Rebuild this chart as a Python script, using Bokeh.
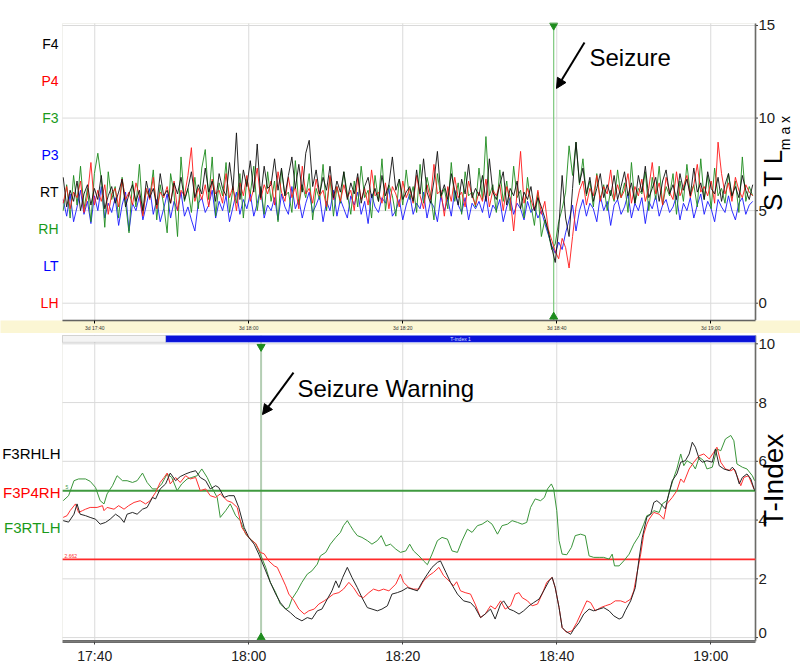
import math
from bokeh.plotting import figure
from bokeh.layouts import column
from bokeh.models import (Range1d, FixedTicker, Label, Arrow, NormalHead, BoxAnnotation)
from bokeh.embed import file_html
from bokeh.resources import INLINE

SANS = "Liberation Sans"

# ---------------- data ----------------
# time axis in minutes after 17:00
x_ticks = [40, 60, 80, 100, 120]
x_tick_labels = ["17:40", "18:00", "18:20", "18:40", "19:00"]
x_tick_labels_top = ["3d 17:40", "3d 18:00", "3d 18:20", "3d 18:40", "3d 19:00"]
stl_ticks = [0, 5, 10, 15]
stl_tick_labels = ["0", "5", "10", "15"]
tindex_ticks = [0, 2, 4, 6, 8, 10]
tindex_tick_labels = ["0", "2", "4", "6", "8", "10"]

seizure_t = 99.6          # 18:39.6
warning_t = 61.6          # 18:01.6
threshold_hi = 5.0
threshold_lo = 2.662

stl_channels = ["F4", "P4", "F3", "P3", "RT", "RH", "LT", "LH"]
stl_channel_colors = ["#000000", "#ff0000", "#1a9a1a", "#0000ff",
                      "#000000", "#1a9a1a", "#0000ff", "#ff0000"]
stl_channel_y = [14, 12, 10, 8, 6, 4, 2, 0]

tindex_names = ["F3RHLH", "F3P4RH", "F3RTLH"]
tindex_name_colors = ["#000000", "#ff0000", "#1a9a1a"]
tindex_name_y = [6.25, 4.95, 3.75]

scroll_start = 49.2

# STLmax profiles, sampled every 0.45 min starting at 17:35.9
stl_t0, stl_dt = 35.9, 0.45
stl_black = [
    6.8, 5.2, 6.1, 5.5, 6.6, 5.0, 5.9, 6.4, 5.3, 6.2, 5.6, 6.9, 5.1, 5.8, 6.3, 5.4, 6.0, 6.7, 5.2, 5.9,
    6.4, 5.5, 6.1, 5.0, 6.6, 5.7, 6.2, 5.3, 7.0, 5.8, 6.1, 5.4, 6.5, 5.9, 6.8, 5.6, 6.2, 7.1, 5.7, 6.4,
    5.9, 7.3, 6.0, 6.6, 5.5, 7.0, 6.2, 5.8, 7.6, 6.1, 9.2, 5.6, 7.2, 6.3, 7.7, 6.0, 8.6, 5.7, 7.4, 6.2,
    6.4, 7.8, 6.1, 7.3, 5.8, 6.9, 7.9, 6.2, 7.5, 6.0, 8.1, 8.8, 6.3, 7.2, 5.9, 6.8, 6.1, 7.4, 5.7, 6.6,
    6.0, 7.1, 5.6, 6.5, 5.9, 7.0, 5.4, 6.3, 6.8, 5.7, 6.2, 5.5, 6.9, 5.8, 6.4, 7.9, 6.1, 6.7, 5.6, 6.0,
    6.3, 5.5, 7.2, 5.9, 7.8, 6.0, 5.4, 6.6, 8.2, 5.8, 6.4, 5.6, 7.0, 6.1, 5.3, 6.7, 5.9, 7.5, 5.7, 6.2,
    5.8, 6.9, 5.5, 7.8, 6.0, 5.6, 6.4, 7.1, 5.3, 6.2, 5.8, 6.6, 5.1, 6.0, 5.6, 6.3, 5.0, 5.7, 5.2, 4.6,
    3.9, 3.0, 2.2, 4.0, 6.9, 4.6, 3.6, 6.2, 8.7, 6.5, 7.3, 5.9, 6.8, 5.5, 6.2, 7.0, 5.7, 6.4, 5.8, 6.9,
    5.6, 6.3, 7.1, 5.8, 6.5, 5.4, 6.9, 6.0, 7.4, 5.7, 6.2, 6.8, 5.5, 6.6, 7.2, 5.9, 6.4, 5.6, 7.0, 6.1,
    6.7, 5.8, 7.3, 6.0, 6.5, 5.6, 7.1, 6.2, 5.9, 6.8, 5.5, 6.4, 7.0, 5.8, 6.3, 5.7, 6.9, 6.1, 5.6, 6.4,
]
stl_red = [
    5.4, 6.3, 5.1, 6.0, 5.7, 6.6, 4.9, 5.8, 7.6, 5.3, 6.1, 5.5, 6.4, 4.8, 5.9, 6.2, 5.2, 6.7, 5.6, 6.0,
    5.3, 6.5, 5.8, 4.7, 6.2, 5.6, 6.8, 5.1, 6.0, 5.7, 6.3, 5.4, 6.6, 5.0, 6.1, 5.8, 6.9, 8.4, 5.5, 6.2,
    5.6, 6.4, 5.2, 6.7, 5.9, 6.1, 5.4, 7.0, 5.7, 6.3, 5.0, 6.5, 5.8, 6.9, 5.5, 6.2, 7.3, 5.6, 6.4, 5.9,
    6.6, 5.3, 7.1, 6.0, 5.5, 6.8, 5.7, 6.3, 5.1, 7.4, 5.9, 6.2, 5.4, 6.7, 5.8, 6.1, 5.2, 6.9, 5.6, 6.3,
    5.5, 6.4, 5.7, 6.1, 5.0, 6.8, 5.6, 6.2, 5.3, 7.2, 5.8, 6.0, 5.4, 6.5, 5.1, 6.3, 5.9, 5.2, 6.6, 5.7,
    6.2, 5.4, 6.9, 5.8, 5.1, 6.4, 5.6, 7.5, 5.9, 6.1, 4.7, 6.3, 5.5, 6.8, 5.7, 6.0, 5.2, 6.6, 5.8, 5.3,
    6.0, 5.5, 6.7, 5.2, 6.1, 5.8, 6.4, 5.0, 6.3, 5.7, 3.9, 6.0, 8.2, 5.4, 6.2, 5.6, 5.0, 6.1, 4.8, 5.5,
    4.0, 3.4, 2.8, 2.4, 3.5, 3.0, 1.9, 3.6, 5.2, 6.1, 6.6, 5.3, 6.2, 5.8, 6.9, 5.5, 6.3, 5.9, 7.2, 5.6,
    6.4, 5.7, 6.1, 7.0, 5.4, 6.3, 5.8, 6.7, 5.5, 6.2, 7.6, 5.9, 6.5, 5.3, 6.8, 6.0, 5.6, 7.1, 5.8, 6.3,
    6.9, 5.7, 6.4, 7.5, 6.0, 6.3, 5.8, 6.6, 5.4, 8.7, 7.0, 5.9, 6.5, 5.5, 6.8, 6.1, 5.7, 6.4, 6.0, 5.8,
]
stl_green = [
    5.0, 6.4, 4.6, 6.9, 5.3, 7.4, 5.1, 6.2, 4.4, 7.0, 8.1, 6.7, 4.1, 7.1, 5.6, 6.3, 4.6, 6.8, 5.4, 3.8,
    6.6, 5.2, 7.5, 4.8, 6.1, 5.7, 7.2, 4.5, 6.4, 5.3, 3.8, 7.0, 5.9, 3.6, 7.9, 5.5, 6.2, 4.9, 6.8, 5.1,
    7.3, 8.3, 5.6, 7.9, 4.7, 6.5, 5.8, 7.6, 4.9, 6.2, 5.4, 7.0, 4.6, 6.7, 5.9, 7.4, 5.0, 6.3, 4.8, 7.1,
    5.5, 6.6, 4.4, 7.2, 5.8, 6.0, 4.9, 7.7, 5.3, 6.4, 5.7, 7.0, 4.5, 6.2, 5.6, 7.5, 5.0, 6.8, 4.7, 6.3,
    5.4, 7.1, 5.9, 4.8, 6.6, 5.2, 7.4, 5.7, 6.1, 4.6, 6.9, 5.5, 7.8, 5.0, 6.4, 5.8, 4.7, 6.7, 5.3, 7.2,
    5.6, 6.3, 4.9, 7.5, 5.4, 6.8, 5.9, 4.5, 7.0, 5.7, 6.2, 5.1, 7.6, 5.5, 6.5, 4.8, 7.1, 5.8, 6.0, 5.2,
    7.3, 5.6, 9.0, 5.8, 6.4, 4.9, 7.2, 5.5, 6.6, 5.0, 7.4, 5.7, 6.1, 4.6, 6.8, 5.3, 4.2, 6.0, 3.6, 4.5,
    3.8, 2.9, 3.2, 4.4, 5.1, 6.0, 8.5, 6.9, 8.7, 6.4, 7.8, 5.8, 6.6, 5.2, 7.0, 5.6, 6.4, 5.0, 6.1, 5.5,
    7.2, 5.7, 6.5, 4.9, 7.6, 5.4, 6.2, 5.9, 7.1, 5.0, 6.8, 5.6, 7.4, 5.3, 6.3, 5.8, 7.0, 4.8, 6.6, 5.5,
    7.5, 5.9, 6.4, 5.2, 7.8, 5.6, 6.9, 5.1, 7.3, 5.8, 6.2, 5.4, 7.0, 5.7, 6.6, 4.9, 7.9, 5.5, 6.3, 5.8,
]
stl_blue = [
    5.6, 4.7, 5.9, 4.4, 5.2, 6.1, 4.8, 5.5, 4.3, 5.8, 5.0, 6.3, 4.6, 5.4, 4.9, 5.7, 4.2, 5.3, 6.0, 3.9,
    5.4, 5.0, 5.8, 4.5, 5.3, 6.2, 4.8, 5.6, 4.4, 5.1, 5.9, 4.6, 5.5, 5.0, 6.0, 4.7, 5.2, 4.5, 3.9, 5.4,
    5.7, 4.9, 5.3, 6.1, 4.6, 5.5, 5.0, 5.8, 4.4, 5.2, 6.0, 4.8, 5.6, 5.1, 5.9, 4.7, 5.4, 6.2, 4.6, 5.3,
    5.0, 5.7, 4.5, 5.9, 5.2, 4.8, 6.3, 5.1, 5.6, 4.6, 5.4, 6.0, 4.9, 5.3, 5.8, 4.4, 5.5, 5.0, 6.1, 4.7,
    5.6, 5.1, 4.6, 5.8, 5.3, 6.0, 4.8, 5.5, 4.3, 5.9, 5.2, 4.9, 5.7, 5.4, 6.2, 4.7, 5.0, 5.6, 4.5, 5.3,
    5.9, 4.8, 5.4, 5.1, 6.0, 4.6, 5.5, 5.2, 4.4, 5.8, 5.0, 5.6, 4.7, 6.1, 5.3, 4.9, 5.7, 4.5, 5.4, 5.1,
    5.5, 4.9, 5.8, 4.6, 5.3, 5.0, 5.6, 4.4, 5.2, 5.7, 4.8, 5.4, 5.1, 4.5, 5.5, 4.9, 5.2, 4.6, 5.0, 4.3,
    3.7, 3.1, 2.7, 3.3, 2.9, 3.8, 4.5, 5.3, 3.9, 5.0, 5.6, 4.7, 5.4, 5.1, 4.4, 5.8, 5.0, 5.5, 4.2, 5.3,
    5.6, 4.8, 5.2, 5.9, 4.6, 5.4, 5.0, 5.7, 4.3, 5.5, 5.1, 5.8, 4.7, 5.3, 5.6, 4.9, 5.2, 5.8, 4.5, 5.4,
    5.0, 5.7, 4.6, 5.3, 5.9, 4.8, 5.5, 5.1, 4.4, 5.6, 5.2, 4.9, 5.8, 5.0, 4.5, 5.4, 5.7, 4.8, 5.3, 5.5,
]

# T-index profiles: (minutes after 17:00, value)
tindex_black = [
    (35.9, 3.98), (36.6, 3.93), (37.3, 4.2), (37.7, 4.55), (38.1, 4.2), (38.8, 4.15), (39.4, 4.09),
    (40.1, 4.03), (40.7, 3.86), (41.4, 3.92), (42.0, 4.03), (42.7, 4.2), (43.3, 4.09), (43.8, 3.92),
    (44.2, 4.2), (44.9, 4.26), (45.5, 4.2), (46.2, 4.37), (46.8, 4.43), (47.5, 4.77), (47.9, 4.72),
    (48.5, 5.06), (49.2, 5.23), (49.8, 5.6), (50.5, 5.34), (51.1, 5.48), (51.8, 5.57), (52.4, 5.63),
    (53.1, 5.68), (53.7, 5.45), (54.4, 5.34), (55.0, 5.06), (55.7, 5.17), (56.1, 5.11), (56.8, 4.77),
    (57.4, 4.83), (58.1, 4.83), (58.7, 4.43), (59.4, 3.75), (60.0, 3.41), (60.7, 3.18), (61.3, 2.84),
    (62.2, 2.27), (62.8, 1.88), (63.5, 1.48), (64.1, 1.19), (64.8, 0.97), (65.4, 0.85), (66.1, 0.68),
    (66.9, 0.57), (67.6, 0.68), (68.2, 0.63), (68.9, 0.91), (69.5, 0.97), (70.2, 1.31), (70.8, 1.59),
    (71.3, 1.93), (71.7, 1.70), (72.2, 2.05), (72.8, 2.39), (73.4, 2.05), (74.1, 1.70), (74.7, 1.36),
    (75.4, 1.02), (76.0, 0.97), (76.7, 0.91), (77.3, 0.97), (78.0, 1.08), (78.6, 1.48), (79.3, 1.53),
    (79.9, 1.59), (80.6, 1.70), (81.2, 1.65), (81.9, 1.59), (82.5, 1.88), (83.2, 2.16), (83.8, 2.39),
    (84.5, 2.56), (84.9, 2.61), (85.6, 2.22), (86.2, 1.88), (87.1, 1.48), (87.9, 1.25), (88.8, 1.19),
    (89.4, 1.02), (90.1, 0.68), (90.7, 0.80), (91.4, 0.97), (92.0, 0.63), (92.7, 1.14), (93.1, 1.25),
    (93.8, 0.97), (94.4, 0.91), (95.1, 0.80), (95.7, 0.91), (96.4, 1.08), (97.0, 1.19), (97.7, 1.31),
    (98.3, 1.59), (99.0, 1.93), (99.4, 2.05), (99.8, 1.70), (100.3, 1.02), (100.7, 0.34), (101.1, 0.23),
    (101.8, 0.11), (102.2, 0.28), (102.9, 0.51), (103.5, 0.80), (104.2, 0.97), (104.8, 0.91),
    (105.5, 0.97), (106.1, 1.02), (106.8, 0.91), (107.4, 0.74), (108.1, 0.63), (108.5, 0.68),
    (108.9, 0.91), (109.6, 1.25), (110.2, 1.70), (110.65, 2.61), (111.1, 3.4), (111.7, 4.1),
    (112.2, 4.2), (112.6, 4.6), (113.0, 4.66), (113.5, 4.55), (114.1, 4.38), (114.6, 4.94),
    (115.0, 5.34), (115.6, 5.57), (116.1, 5.97), (116.7, 6.02), (117.2, 6.25), (117.6, 6.65),
    (118.0, 6.48), (118.5, 6.08), (118.9, 5.97), (119.5, 6.02), (120.2, 5.97), (120.6, 6.42),
    (121.1, 5.85), (121.7, 5.74), (122.4, 5.68), (122.8, 5.8), (123.2, 5.68), (123.7, 5.23),
    (124.1, 5.45), (124.7, 5.57), (125.2, 5.4), (125.7, 5.0),
]
tindex_red = [
    (35.9, 4.09), (36.4, 4.15), (36.8, 4.32), (37.5, 4.55), (37.9, 4.26), (38.4, 4.32), (38.8, 4.37),
    (39.4, 4.43), (40.3, 4.43), (41.0, 4.49), (41.2, 4.32), (41.6, 4.43), (42.5, 4.37), (43.1, 4.49),
    (43.8, 4.37), (44.4, 4.49), (45.1, 4.6), (45.9, 4.66), (46.6, 4.55), (47.2, 4.66), (47.9, 4.94),
    (48.5, 5.28), (49.0, 5.45), (49.4, 5.6), (49.8, 5.23), (50.5, 5.45), (51.1, 5.28), (51.8, 5.51),
    (52.4, 5.4), (53.1, 5.45), (53.7, 5.0), (54.4, 5.06), (55.0, 4.83), (55.7, 4.77), (56.3, 4.89),
    (57.2, 4.66), (57.8, 4.6), (58.5, 4.43), (59.1, 3.75), (59.8, 3.47), (60.4, 3.3), (60.9, 3.2),
    (61.5, 2.9), (62.0, 2.85), (62.6, 2.61), (63.3, 2.44), (63.7, 2.39), (64.3, 2.05), (64.8, 1.76),
    (65.2, 1.48), (65.9, 1.25), (66.5, 0.97), (67.2, 0.8), (67.8, 0.91), (68.5, 0.97), (69.1, 1.14),
    (69.8, 1.25), (70.4, 1.36), (71.0, 1.48), (71.7, 1.53), (72.3, 1.65), (73.0, 1.88), (73.6, 1.70),
    (74.3, 1.42), (74.9, 1.36), (75.6, 1.53), (76.2, 1.65), (76.9, 1.59), (77.5, 1.65), (78.2, 1.59),
    (79.1, 1.82), (79.7, 2.16), (80.1, 1.88), (80.8, 1.70), (81.4, 1.65), (82.1, 1.65), (82.7, 1.93),
    (83.4, 2.11), (84.0, 2.22), (84.7, 2.39), (85.3, 2.11), (86.0, 1.93), (86.6, 1.76), (87.0, 1.9),
    (87.5, 1.59), (88.1, 1.53), (88.8, 1.48), (89.4, 1.14), (90.1, 0.68), (90.7, 0.8), (91.4, 1.08),
    (92.0, 0.97), (92.7, 1.25), (93.3, 0.97), (94.0, 1.08), (94.6, 1.48), (95.1, 1.53), (95.5, 1.36),
    (96.2, 1.25), (96.8, 1.08), (97.5, 1.14), (98.1, 1.48), (98.7, 1.88), (99.4, 2.05), (99.8, 1.70),
    (100.3, 1.02), (100.7, 0.34), (101.3, 0.17), (102.0, 0.23), (102.6, 0.51), (103.3, 0.91),
    (103.9, 1.25), (104.4, 1.19), (105.0, 0.91), (105.7, 1.02), (106.3, 1.08), (107.0, 1.14),
    (107.6, 1.25), (108.3, 1.25), (108.9, 1.19), (109.6, 1.31), (110.0, 1.59), (110.4, 2.16),
    (110.9, 2.84), (111.3, 3.52), (111.7, 3.86), (112.0, 4.03), (112.6, 4.26), (113.3, 4.2),
    (113.9, 4.03), (114.3, 4.55), (115.0, 4.77), (115.6, 5.0), (116.1, 5.4), (116.5, 5.28),
    (117.2, 5.74), (117.8, 5.97), (118.5, 6.19), (119.1, 6.25), (119.8, 6.08), (120.4, 6.31),
    (120.8, 6.48), (121.3, 5.97), (121.9, 5.74), (122.6, 5.68), (123.0, 5.74), (123.4, 5.51),
    (123.9, 5.17), (124.3, 5.45), (124.9, 5.51), (125.6, 5.06),
]
tindex_green = [
    (35.9, 4.66), (36.6, 4.83), (37.3, 5.34), (37.9, 5.4), (38.8, 5.4), (39.4, 5.32), (40.1, 5.11),
    (40.7, 4.66), (41.2, 4.55), (41.6, 4.89), (42.3, 5.17), (42.9, 5.51), (43.6, 5.34), (44.2, 5.34),
    (44.9, 5.28), (45.5, 5.34), (46.2, 5.6), (46.8, 5.28), (47.5, 5.06), (48.1, 5.06), (48.7, 5.23),
    (49.4, 5.57), (50.0, 5.45), (50.7, 5.0), (51.3, 5.23), (52.0, 5.4), (52.6, 5.45), (53.3, 5.51),
    (53.9, 5.74), (54.6, 5.45), (55.2, 5.11), (55.9, 4.77), (56.3, 4.09), (57.0, 4.32), (57.6, 4.55),
    (58.3, 4.15), (58.9, 3.98), (59.6, 3.52), (60.2, 3.35), (60.9, 3.2), (61.5, 2.84), (62.2, 2.39),
    (62.8, 1.88), (63.5, 1.53), (64.1, 1.14), (64.8, 0.97), (65.2, 1.02), (65.6, 1.31), (66.3, 1.59),
    (66.9, 1.88), (67.6, 2.16), (68.2, 2.27), (68.9, 2.5), (69.3, 2.78), (70.0, 2.9), (70.6, 3.18),
    (71.3, 3.41), (71.9, 3.58), (72.3, 3.81), (72.8, 3.98), (73.2, 3.81), (73.6, 3.64), (74.1, 3.47),
    (74.7, 3.41), (75.4, 3.3), (76.0, 3.18), (76.7, 3.3), (77.2, 3.47), (77.8, 3.12), (78.4, 3.18),
    (79.1, 3.01), (79.7, 2.9), (80.4, 2.95), (80.9, 3.18), (81.4, 2.95), (82.1, 2.78), (82.7, 2.61),
    (83.2, 2.48), (83.8, 2.84), (84.5, 3.3), (85.1, 3.41), (85.8, 3.35), (86.4, 2.95), (87.1, 2.9),
    (87.7, 3.3), (88.4, 3.69), (89.0, 3.58), (89.7, 3.81), (90.3, 3.86), (91.0, 3.98), (91.6, 3.86),
    (92.3, 3.52), (92.9, 3.81), (93.6, 3.86), (94.2, 3.98), (94.9, 3.92), (95.5, 3.86), (96.1, 3.92),
    (96.6, 4.43), (97.2, 4.72), (97.9, 4.66), (98.4, 4.77), (98.8, 5.06), (99.3, 5.23), (99.6, 5.06),
    (100.0, 4.32), (100.3, 3.3), (100.7, 2.84), (101.3, 2.82), (101.9, 3.07), (102.4, 3.47),
    (103.1, 3.52), (103.7, 3.47), (104.2, 2.78), (104.8, 2.73), (105.5, 2.73), (106.1, 2.73),
    (106.8, 2.67), (107.2, 2.84), (107.5, 2.44), (108.1, 2.44), (108.7, 2.61), (109.4, 2.84),
    (110.0, 3.18), (110.7, 3.47), (111.3, 3.86), (111.7, 4.15), (112.2, 4.2), (112.6, 4.32),
    (113.3, 4.26), (113.7, 4.55), (114.3, 4.66), (114.8, 5.11), (115.2, 5.45), (115.6, 5.74),
    (116.1, 6.25), (116.5, 5.85), (116.9, 6.02), (117.6, 5.91), (118.0, 5.74), (118.5, 6.14),
    (119.1, 6.02), (119.5, 5.74), (120.2, 5.8), (120.8, 6.42), (121.3, 6.36), (121.9, 6.76),
    (122.6, 6.88), (123.0, 6.7), (123.4, 5.91), (124.1, 5.8), (124.7, 5.74), (125.4, 5.51),
    (125.7, 5.34),
]

# ---------------- geometry ----------------
X0, X1 = 35.81, 125.81                 # time span of both panels
STL_LO, STL_HI = -0.935, 15.108        # STLmax panel value span
TIX_LO, TIX_HI = -0.134, 10.283        # T-index panel value span (incl. scroll strip)
PANEL_LEFT_PX, PANEL_RIGHT_PX = 62, 755
FIG_W = 800
TOP_H, TOP_PANEL_TOP, TOP_AXIS_H = 333, 23, 13
BOT_H, BOT_PANEL_TOP, BOT_AXIS_H = 336, 2, 28

PPX = (PANEL_RIGHT_PX - PANEL_LEFT_PX) / (X1 - X0)
FIG_X = (X0 - PANEL_LEFT_PX / PPX, X1 + (FIG_W - PANEL_RIGHT_PX) / PPX)


def x_at(px):
    """time coordinate that falls at page pixel column px"""
    return X0 + (px - PANEL_LEFT_PX) / PPX


def make_panel(height, panel_top, axis_h, lo, hi):
    ppy = (height - panel_top - axis_h) / (hi - lo)
    p = figure(width=FIG_W, height=height, x_range=Range1d(*FIG_X),
               y_range=Range1d(lo, hi + panel_top / ppy),
               y_axis_location=None, title=None, output_backend="svg",
               toolbar_location=None, min_border_left=0, min_border_right=0,
               min_border_top=0, min_border_bottom=axis_h)
    p.grid.visible = False
    p.outline_line_color = None
    p.background_fill_color = "white"
    p.border_fill_color = "white"
    ax = p.xaxis[0]
    ax.bounds = (X0, X1)
    ax.ticker = FixedTicker(ticks=x_ticks)
    ax.minor_tick_line_color = None
    ax.major_tick_in = 0
    ax.major_tick_out = 3
    return p, ppy


def panel_frame(p, lo, hi, yticks, tick_labels, tick_label_y, ppy):
    n = len(yticks)
    # grid lines
    p.segment(x0=[X0] * n, y0=yticks, x1=[X1] * n, y1=yticks, line_color="#dadada", line_width=1)
    p.segment(x0=x_ticks, y0=[lo] * len(x_ticks), x1=x_ticks, y1=[hi] * len(x_ticks),
              line_color="#dadada", line_width=1)
    # right value axis: line, ticks, labels
    p.segment(x0=[X1], y0=[lo], x1=[X1], y1=[hi], line_color="#404040", line_width=1.5)
    p.segment(x0=[X1] * n, y0=yticks, x1=[X1 + 2.5 / PPX] * n, y1=yticks,
              line_color="#404040", line_width=1)
    p.text(x=[x_at(758)] * n, y=tick_label_y, text=tick_labels, text_align="left",
           text_baseline="middle", text_font={"value": SANS}, text_font_size="15px",
           text_color="#202020")


# ---------------- top panel: STLmax ----------------
p1, ppy1 = make_panel(TOP_H, TOP_PANEL_TOP, TOP_AXIS_H, STL_LO, STL_HI)
panel_frame(p1, STL_LO, STL_HI, stl_ticks, stl_tick_labels, stl_ticks, ppy1)
xa = p1.xaxis[0]
xa.major_label_overrides = {t: s for t, s in zip(x_ticks, x_tick_labels_top)}
xa.major_label_text_font_size = "5px"
xa.major_label_text_font = SANS
xa.major_label_text_color = "#333333"
xa.major_label_standoff = 1
xa.axis_line_color = "#505050"
xa.axis_line_width = 1.5
try:
    xa.background_fill_color = "#fbf6d4"
except Exception:
    pass

p1.segment(x0=[seizure_t], y0=[STL_LO], x1=[seizure_t], y1=[STL_HI],
           line_color="#7cc87c", line_width=1.2)

for vals, col in [(stl_blue, "#1a1aff"), (stl_green, "#1e8c1e"),
                  (stl_red, "#ff1a1a"), (stl_black, "#111111")]:
    p1.line([stl_t0 + i * stl_dt for i in range(len(vals))], vals,
            line_color=col, line_width=1, line_alpha=0.9)

p1.add_layout(BoxAnnotation(left=X0, right=X1, bottom=STL_LO, top=STL_HI, fill_color=None,
                            fill_alpha=0, line_color="#cfcfc4", line_width=1))
p1.scatter([seizure_t], [stl_ticks[-1]], marker="inverted_triangle", size=8, color="#1e8c1e")
p1.scatter([seizure_t], [STL_LO + 0.2], marker="triangle", size=8, color="#1e8c1e")

p1.text(x=[x_at(58)] * len(stl_channels), y=stl_channel_y, text=stl_channels,
        text_color=stl_channel_colors, text_align="right", text_baseline="middle",
        text_font={"value": SANS}, text_font_size="14px")

p1.add_layout(Label(x=x_at(589), y=13.26, text="Seizure", text_font=SANS,
                    text_font_size="24px", text_color="#000000", text_baseline="alphabetic"))
p1.add_layout(Arrow(end=NormalHead(size=10, fill_color="black", line_color="black"),
                    x_start=x_at(584), y_start=14.08, x_end=x_at(556), y_end=11.6,
                    line_width=2, line_color="black"))
p1.text(x=[x_at(772.5)], y=[6.66], text=["S T L"], angle=math.pi / 2, text_align="center",
        text_baseline="middle", text_font={"value": SANS}, text_font_size="26px",
        text_color="#000000")
p1.text(x=[x_at(784.5)], y=[9.19], text=["m a x"], angle=math.pi / 2, text_align="center",
        text_baseline="middle", text_font={"value": SANS}, text_font_size="14px",
        text_color="#000000")

# ---------------- bottom panel: T-index ----------------
p2, ppy2 = make_panel(BOT_H, BOT_PANEL_TOP, BOT_AXIS_H, TIX_LO, TIX_HI)
p2.x_range = p1.x_range
tix_label_y = [tindex_ticks[0] + 5 / ppy2] + tindex_ticks[1:]   # "0" lifted clear of the axis
panel_frame(p2, TIX_LO, TIX_HI, tindex_ticks, tindex_tick_labels, tix_label_y, ppy2)
xb = p2.xaxis[0]
xb.major_label_overrides = {t: s for t, s in zip(x_ticks, x_tick_labels)}
xb.major_label_text_font = SANS
xb.major_label_text_font_size = "14px"
xb.major_label_text_color = "#202020"
xb.major_label_standoff = 3
xb.axis_line_color = "#6c6c6c"
xb.axis_line_width = 3
xb.major_tick_line_color = "#404040"

p2.segment(x0=[warning_t], y0=[TIX_LO], x1=[warning_t], y1=[TIX_HI],
           line_color="#b4ceb4", line_width=2)
p2.segment(x0=[X0, X0], y0=[threshold_hi, threshold_lo], x1=[X1, X1],
           y1=[threshold_hi, threshold_lo], line_color=["#3f9a3f", "#ff2a2a"],
           line_width=[2, 1.6])

for series, col in [(tindex_green, "#3a953a"), (tindex_red, "#ff3030"), (tindex_black, "#262626")]:
    ts, vs = zip(*series)
    p2.line(list(ts), list(vs), line_color=col, line_width=1)

p2.add_layout(BoxAnnotation(left=X0, right=X1, bottom=TIX_LO, top=TIX_HI, fill_color=None,
                            fill_alpha=0, line_color="#cfcfc4", line_width=1))
p2.scatter([warning_t], [tindex_ticks[-1] - 0.1], marker="inverted_triangle", size=8,
           color="#1e8c1e")
p2.scatter([warning_t], [tindex_ticks[0]], marker="triangle", size=8, color="#1e8c1e")

# scroll bar strip at top of the T-index panel
p2.add_layout(BoxAnnotation(left=scroll_start, right=X1, bottom=10.05, top=TIX_HI,
                            fill_color="#0a12d8", fill_alpha=1.0, line_color="#7f9cff",
                            line_width=1))
p2.add_layout(BoxAnnotation(left=X0, right=scroll_start, bottom=10.05, top=TIX_HI,
                            fill_color="#f4f4f4", fill_alpha=1.0, line_color="#8a8a8a",
                            line_width=1))
p2.add_layout(Label(x=(scroll_start + X1) / 2, y=10.16, text="T-index 1",
                    text_font=SANS, text_font_size="5px", text_color="#d8e0ff",
                    text_align="center", text_baseline="middle"))

p2.add_layout(Label(x=x_at(65), y=threshold_hi + 0.06, text="5", text_font=SANS,
                    text_font_size="5px", text_color="#3f9a3f", text_baseline="bottom"))
p2.add_layout(Label(x=x_at(64), y=threshold_lo + 0.06, text="2.662", text_font=SANS,
                    text_font_size="5px", text_color="#ff2a2a", text_baseline="bottom"))

p2.text(x=[x_at(60)] * len(tindex_names), y=tindex_name_y, text=tindex_names,
        text_color=tindex_name_colors, text_align="right", text_baseline="middle",
        text_font={"value": SANS}, text_font_size="15px")

p2.add_layout(Label(x=x_at(297), y=8.47, text="Seizure Warning", text_font=SANS,
                    text_font_size="24px", text_color="#000000", text_baseline="alphabetic"))
p2.add_layout(Arrow(end=NormalHead(size=10, fill_color="black", line_color="black"),
                    x_start=x_at(293), y_start=9.02, x_end=x_at(262), y_end=7.59,
                    line_width=2, line_color="black"))
p2.text(x=[x_at(773)], y=[5.35], text=["T-Index"], angle=math.pi / 2, text_align="center",
        text_baseline="middle", text_font={"value": SANS}, text_font_size="28px",
        text_color="#000000")

layout = column(p1, p2, spacing=0)
open("out.html", "w").write(file_html(layout, INLINE))
